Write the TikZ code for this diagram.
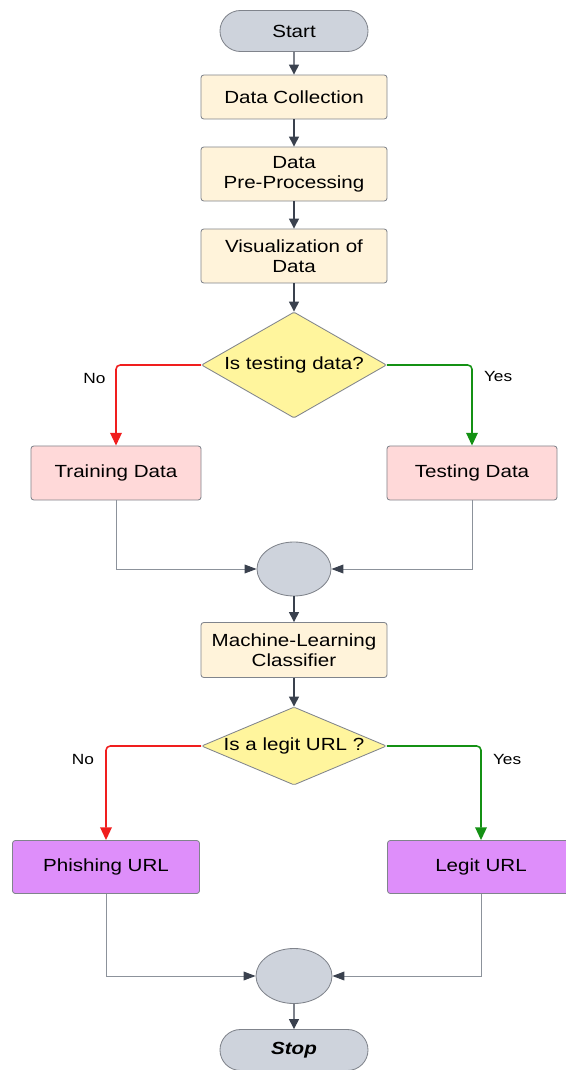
\documentclass[tikz,border=0pt]{standalone}
\usepackage{fontspec}
\setmainfont{Liberation Sans}[FakeStretch=1.17]
\usepackage{xcolor}
\usetikzlibrary{arrows.meta,shapes.geometric,shapes.misc}
\definecolor{termgray}{RGB}{206,211,220}
\definecolor{edgegray}{RGB}{128,132,140}
\definecolor{cream}{RGB}{255,243,218}
\definecolor{decyellow}{RGB}{255,245,157}
\definecolor{setpink}{RGB}{255,217,217}
\definecolor{urlpurple}{RGB}{222,142,250}
\definecolor{arrdark}{RGB}{58,65,78}
\definecolor{joingray}{RGB}{140,146,155}
\definecolor{nored}{RGB}{240,30,30}
\definecolor{yesgreen}{RGB}{20,145,20}

\begin{document}
\begin{tikzpicture}[
  x=0.025cm, y=-0.025cm,
  font=\fontsize{12.5}{14.5}\selectfont,
  term/.style={draw=edgegray, line width=0.6pt, rounded rectangle, fill=termgray,
    minimum width=3.7cm, minimum height=1.025cm, inner sep=0pt},
  proc/.style={draw=edgegray, line width=0.6pt, rounded corners=2pt, fill=cream,
    align=center, minimum width=4.65cm, minimum height=1.35cm, inner sep=1pt},
  dataset/.style={proc, fill=setpink, minimum width=4.25cm},
  result/.style={proc, fill=urlpurple, minimum width=4.675cm, minimum height=1.325cm},
  decision/.style={draw=edgegray, line width=0.6pt, diamond, fill=decyellow,
    aspect=2, inner sep=0pt, minimum width=4.625cm, rounded corners=1pt},
  merge/.style={draw=edgegray, line width=0.6pt, ellipse, fill=termgray,
    minimum width=1.85cm, minimum height=1.35cm},
  lbl/.style={font=\fontsize{10.5}{12}\selectfont, inner sep=1pt},
  arr/.style={-{Triangle[length=2.5mm,width=2.5mm]}, draw=arrdark, line width=0.9pt},
  noarr/.style={-{Triangle[length=3.2mm,width=2.9mm]}, draw=nored, line width=1.1pt,
    rounded corners=3pt},
  yesarr/.style={-{Triangle[length=3.2mm,width=2.9mm]}, draw=yesgreen, line width=1.1pt,
    rounded corners=3pt},
  joinarr/.style={-{Triangle[length=3mm,width=2.2mm,color=arrdark]}, draw=joingray,
    line width=0.7pt}
]
\useasboundingbox (0,0) rectangle (565,1070);

\node[term] (start) at (294,31) {Start};
\node[proc, minimum height=1.1cm] (collect) at (294,97) {Data Collection};
\node[proc] (prep) at (294,174) {Data\\Pre-Processing};
\node[proc] (visual) at (294,256) {Visualization of\\Data};
\node[decision, minimum height=2.65cm] (istest) at (294,365) {Is testing data?};
\node[dataset] (train) at (116,473) {Training Data};
\node[dataset] (test) at (472,473) {Testing Data};
\node[merge] (mergeA) at (294,569) {};
\node[proc, minimum height=1.375cm] (classify) at (294,650) {Machine-Learning\\Classifier};
\node[decision, minimum height=1.95cm, aspect=2.37] (islegit) at (294,746) {Is a legit URL ?};
\node[result] (phish) at (106,867) {Phishing URL};
\node[result] (legit) at (481,867) {Legit URL};
\node[merge, minimum width=1.9cm, minimum height=1.375cm] (mergeB) at (294,976) {};
\node[term] (stop) at (294,1050) {\bfseries\itshape Stop};

\draw[arr] (start) -- (collect);
\draw[arr] (collect) -- (prep);
\draw[arr] (prep) -- (visual);
\draw[arr] (visual) -- (istest);
\draw[noarr] (istest.west) -| node[lbl, pos=0.585, left=6pt]{No} (train.north);
\draw[yesarr] (istest.east) -| node[lbl, pos=0.57, right=7pt]{Yes} (test.north);
\draw[joinarr] (train.south) |- (mergeA.west);
\draw[joinarr] (test.south) |- (mergeA.east);
\draw[arr] (mergeA) -- (classify);
\draw[arr] (classify) -- (islegit);
\draw[noarr] (islegit.west) -| node[lbl, pos=0.57, left=7pt]{No} (phish.north);
\draw[yesarr] (islegit.east) -| node[lbl, pos=0.57, right=7pt]{Yes} (legit.north);
\draw[joinarr] (phish.south) |- (mergeB.west);
\draw[joinarr] (legit.south) |- (mergeB.east);
\draw[arr] (mergeB) -- (stop);

\end{tikzpicture}
\end{document}
